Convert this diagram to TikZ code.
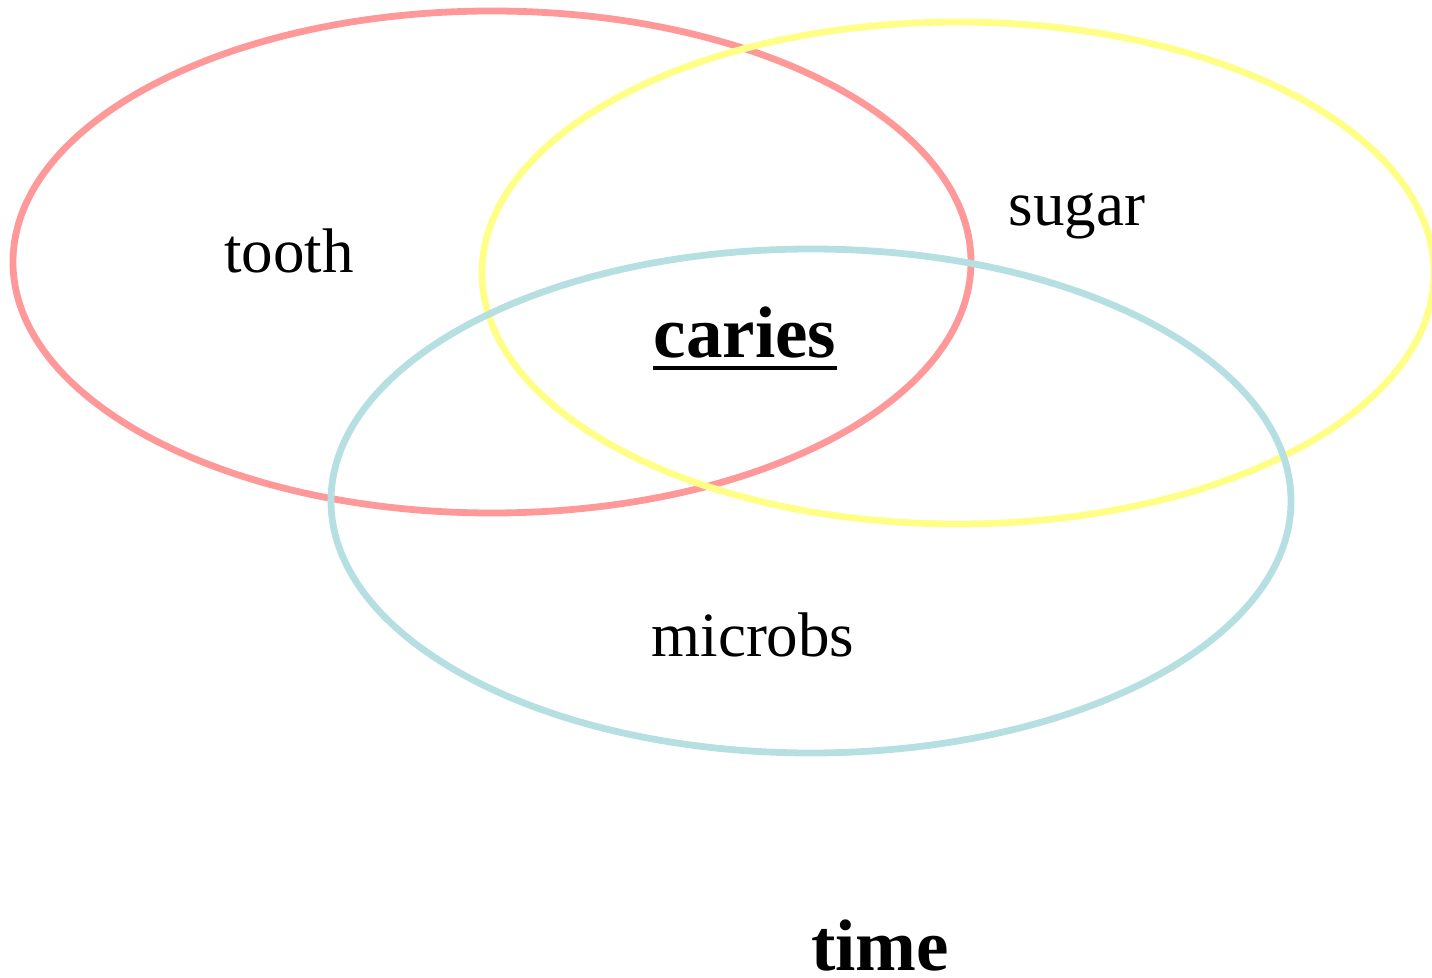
\documentclass[tikz,border=0pt]{standalone}
\usepackage{fontspec}
\setmainfont{Liberation Serif}
\definecolor{toothred}{HTML}{FF9999}
\definecolor{sugaryellow}{HTML}{FFFF88}
\definecolor{microbcyan}{HTML}{B6DFE2}
\tikzset{
    ring/.style={line width=3.4pt},
    label/.style={inner sep=0pt, anchor=base, font=\fontsize{31.5}{36}\selectfont},
    keylabel/.style={inner sep=0pt, anchor=base, font=\fontsize{36.5}{42}\selectfont\bfseries}
}
\begin{document}
\begin{tikzpicture}[x=0.5pt, y=-0.5pt]
    \useasboundingbox (0,0) rectangle (1432,978);
    % Cerchi
    \draw[ring, toothred] (492,262) ellipse [x radius=479, y radius=251];
    \draw[ring, sugaryellow] (958,273) ellipse [x radius=476, y radius=251];
    \draw[ring, microbcyan] (811,501) ellipse [x radius=480, y radius=252];

    % Etichette
    \node[label] (tooth) at (289,273) {tooth};
    \node[label] (sugar) at (1077,226) {sugar};
    \node[label] (microbs) at (753,657) {microbs};
    \node[keylabel] (caries) at (745,358) {caries};
    \draw[line width=2.2pt] ([yshift=-5pt]caries.base west) -- ([yshift=-5pt]caries.base east);
    \node[keylabel] (time) at (880,971) {time};
\end{tikzpicture}
\end{document}
